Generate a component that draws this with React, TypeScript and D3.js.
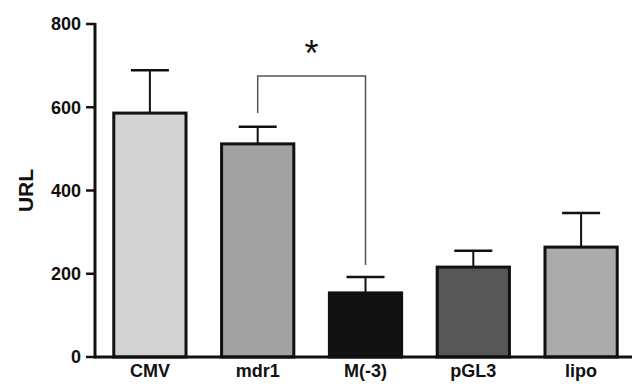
import React from 'react'
import * as d3 from 'd3'

const categories = ['CMV', 'mdr1', 'M(-3)', 'pGL3', 'lipo']
const means = [586, 512, 154, 216, 264]
const errors = [103, 41, 38, 39, 82]
const fills = ['#d2d2d2', '#a2a2a2', '#121212', '#565656', '#ababab']
const yTicks = [0, 200, 400, 600, 800]

const width = 636, height = 389
const margin = { top: 24, right: 4, bottom: 32, left: 95 }

export default function App() {
  const x = d3.scaleBand()
    .domain(categories)
    .range([margin.left + 8, width - margin.right - 4])
    .paddingInner(0.33)
    .paddingOuter(0.1)
  const y = d3.scaleLinear().domain([0, 800]).range([height - margin.bottom, margin.top])
  const font = 'Arial, "Liberation Sans", sans-serif'

  // bracket between mdr1 and M(-3)
  const bx1 = x('mdr1')! + x.bandwidth() / 2
  const bx2 = x('M(-3)')! + x.bandwidth() / 2
  const bTop = y(675)

  return (
    <svg width={width} height={height} style={{ position: 'absolute', left: 0, top: 0, background: '#fff' }}>
      {categories.map((c, i) => {
        const cx = x(c)! + x.bandwidth() / 2
        return (
          <g key={c}>
            <line x1={cx} x2={cx} y1={y(means[i])} y2={y(means[i] + errors[i])} stroke="#111" strokeWidth={2} />
            <line x1={cx - 19} x2={cx + 19} y1={y(means[i] + errors[i])} y2={y(means[i] + errors[i])} stroke="#111" strokeWidth={2.5} />
            <rect x={x(c)!} y={y(means[i])} width={x.bandwidth()} height={y(0) - y(means[i])}
              fill={fills[i]} stroke="#111" strokeWidth={3} />
            <text x={cx} y={377} textAnchor="middle" fontFamily={font} fontWeight="bold" fontSize={18} fill="#111">{c}</text>
          </g>
        )
      })}
      <path d={`M${bx1},${y(586)}V${bTop}H${bx2}V${y(221)}`} fill="none" stroke="#555" strokeWidth={1.5} />
      <text x={(bx1 + bx2) / 2} y={66} textAnchor="middle" fontFamily={font} fontSize={36} fill="#111">*</text>
      <line x1={margin.left} x2={margin.left} y1={y(800) - 1} y2={y(0) + 1.5} stroke="#111" strokeWidth={3} />
      <line x1={margin.left} x2={width - 4} y1={y(0)} y2={y(0)} stroke="#111" strokeWidth={3} />
      {yTicks.map(t => (
        <g key={t}>
          <line x1={margin.left - 9} x2={margin.left} y1={y(t)} y2={y(t)} stroke="#111" strokeWidth={2.5} />
          <text x={margin.left - 14} y={y(t)} dy="0.36em" textAnchor="end" fontFamily={font} fontWeight="bold" fontSize={18} fill="#111">{t}</text>
        </g>
      ))}
      <text transform={`translate(33,${y(400)}) rotate(-90)`} textAnchor="middle" fontFamily={font} fontWeight="bold" fontSize={21} fill="#111">URL</text>
    </svg>
  )
}
